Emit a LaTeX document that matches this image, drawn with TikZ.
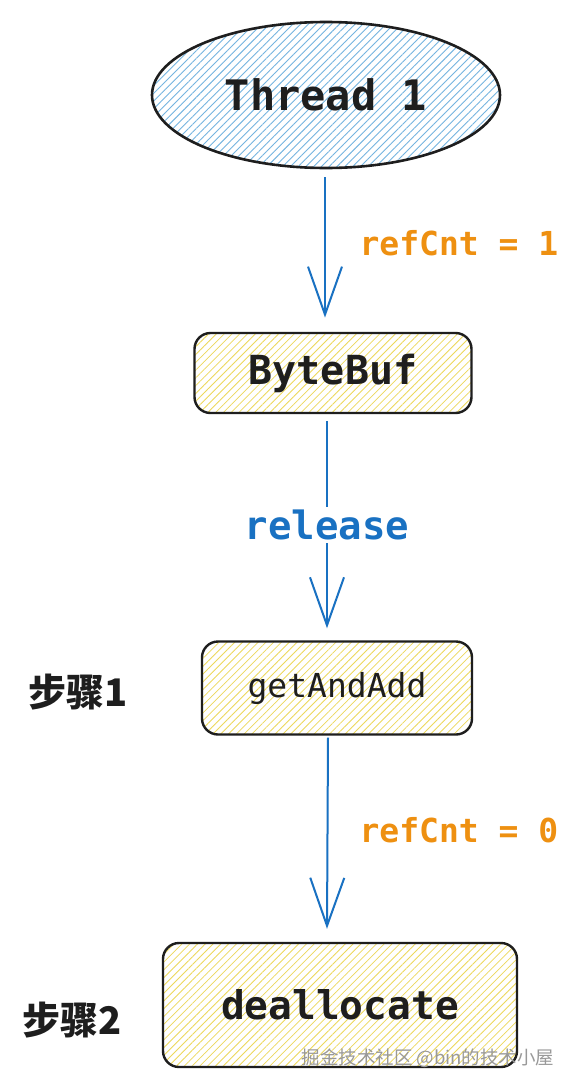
\documentclass[tikz,border=0pt]{standalone}
\usepackage{fontspec}
\setmonofont{DejaVu Sans Mono}
\newfontfamily\cjkfont{Noto Sans CJK SC}
\usetikzlibrary{shapes.geometric,arrows.meta,patterns.meta}

\definecolor{inkblack}{HTML}{1E1E1E}
\definecolor{flowblue}{HTML}{1971C2}
\definecolor{hatchblue}{HTML}{74B4E0}
\definecolor{hatchyellow}{HTML}{EDD85A}
\definecolor{cntorange}{HTML}{EE9011}

\tikzset{
	sketchbox/.style={draw=inkblack, line width=2.4pt, rounded corners=16pt, inner sep=0pt,
		pattern={Lines[angle=45,distance=5.5pt,line width=0.8pt]}, pattern color=hatchyellow,
		font=\ttfamily, text=inkblack},
	flow/.style={flowblue, line width=2pt, -{Straight Barb[length=48pt,width=34pt]}},
	cntlabel/.style={text=cntorange, font=\ttfamily\bfseries\fontsize{33}{40}\selectfont},
	steplabel/.style={text=inkblack, font=\cjkfont\bfseries\fontsize{38}{46}\selectfont}
}

\begin{document}
\begin{tikzpicture}[x=1pt, y=1pt]
			% page
			\useasboundingbox (0,0) rectangle (576,-1087);
			\fill[white] (0,0) rectangle (576,-1087);

			% thread
			\node[ellipse, draw=inkblack, line width=2.6pt, inner sep=0pt,
				minimum width=348pt, minimum height=146pt,
				pattern={Lines[angle=45,distance=5.5pt,line width=0.9pt]}, pattern color=hatchblue,
				font=\ttfamily\bfseries\fontsize{42}{50}\selectfont, text=inkblack]
				(thread) at (326,-95) {Thread 1};

			% boxes
			\node[sketchbox, minimum width=277pt, minimum height=80pt,
				font=\ttfamily\bfseries\fontsize{40}{48}\selectfont] (buf) at (333,-373) {ByteBuf};
			\node[sketchbox, minimum width=270pt, minimum height=93pt,
				font=\ttfamily\fontsize{33}{40}\selectfont] (add) at (337,-688) {getAndAdd};
			\node[sketchbox, minimum width=354pt, minimum height=124pt,
				font=\ttfamily\bfseries\fontsize{39.5}{48}\selectfont] (dealloc) at (340,-1005) {deallocate};

			% steps
			\node[steplabel] (step1) at (78,-692) {步骤1};
			\node[steplabel] (step2) at (72,-1020) {步骤2};

			% arrows
			\draw[flow] ([xshift=-1pt,yshift=-9pt]thread.south) -- ([xshift=-8pt,yshift=15pt]buf.north);
			\draw[flow] ([xshift=-6pt,yshift=-8pt]buf.south) -- ([xshift=-10pt,yshift=12pt]add.north)
				node[pos=0.5, fill=white, inner sep=3pt, text=flowblue,
				font=\ttfamily\bfseries\fontsize{39}{46}\selectfont] (rel) {release};
			\draw[flow] ([xshift=-9pt,yshift=-2pt]add.south) -- ([xshift=-13pt,yshift=13pt]dealloc.north);

			% counts
			\node[cntlabel, anchor=west] (cnt1) at (356,-243) {refCnt = 1};
			\node[cntlabel, anchor=west] (cnt0) at (356,-830) {refCnt = 0};

			% watermark
			\node[anchor=east, text=gray!80, font=\cjkfont\fontsize{18.5}{22}\selectfont]
				(mark) at (558,-1058) {掘金技术社区 @bin的技术小屋};
		\end{tikzpicture}
\end{document}
